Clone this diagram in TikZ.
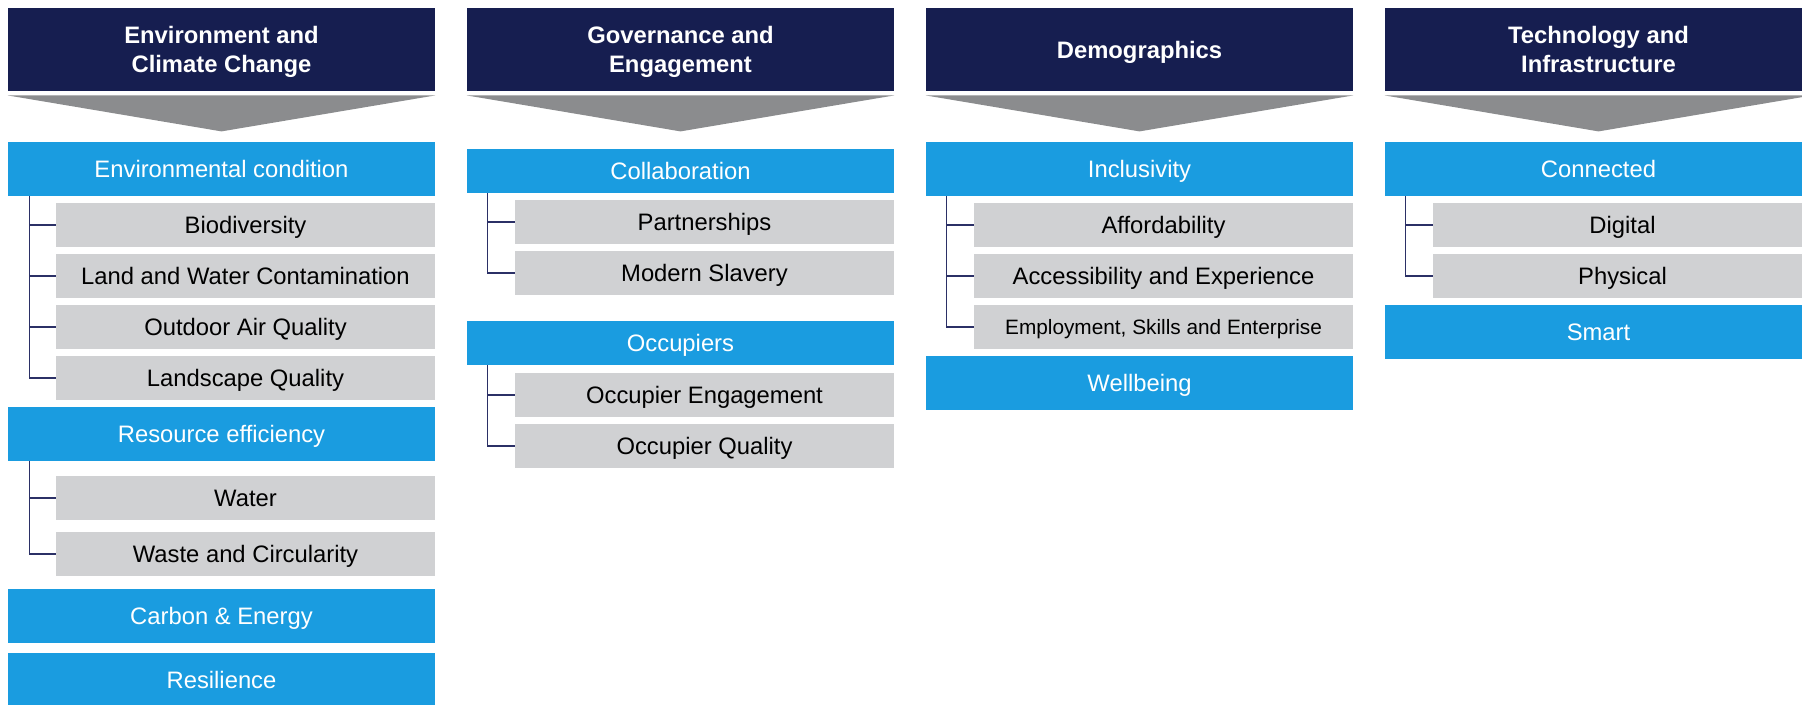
\documentclass[tikz,border=0pt]{standalone}
\usepackage{fontspec}
\setmainfont{Liberation Sans}

\definecolor{navy}{HTML}{161E50}
\definecolor{skyblue}{HTML}{1A9CE0}
\definecolor{lightgrey}{HTML}{D0D1D3}
\definecolor{midgrey}{HTML}{8B8C8E}
\definecolor{treeline}{HTML}{2B3066}

\begin{document}
\begin{tikzpicture}[x=0.5pt, y=-0.5pt,
  head/.style={fill=navy, text=white, font=\fontsize{11.9}{14.5}\selectfont\bfseries, align=center, minimum width=213.5pt, minimum height=41.5pt, inner sep=0, text depth=0pt},
  theme/.style={fill=skyblue, text=white, font=\fontsize{11.9}{14.5}\selectfont, minimum width=213.5pt, minimum height=27pt, inner sep=0, text depth=0pt},
  item/.style={fill=lightgrey, text=black, font=\fontsize{11.9}{14.5}\selectfont, minimum width=189.5pt, minimum height=22pt, inner sep=0, text depth=0pt},
  branch/.style={draw=treeline, line width=0.55pt},
  chevron/.style={fill=midgrey}]
\useasboundingbox (0,0) rectangle (1802,705);
\clip (0,0) rectangle (1802,705);
% Headers
\node[head] (h1) at (221.5,49.5) {Environment and\\Climate Change};
\node[head] (h2) at (680.5,49.5) {Governance and\\Engagement};
\node[head] (h3) at (1139.5,49.5) {Demographics};
\node[head] (h4) at (1598.5,49.5) {Technology and\\Infrastructure};
% Arrows under the headers
\foreach \h in {h1,h2,h3,h4}
  \fill[chevron] ([yshift=-2pt]\h.south west) -- ([yshift=-2pt]\h.south east) -- ([yshift=-20pt]\h.south) -- cycle;
% Environment and Climate Change
\node[theme] (envcond) at (221.5,169) {Environmental condition};
\node[item] (biodiv) at (245.5,225) {Biodiversity};
\node[item] (landwater) at (245.5,276) {Land and Water Contamination};
\node[item] (airqual) at (245.5,327) {Outdoor Air Quality};
\node[item] (landscape) at (245.5,378) {Landscape Quality};
\node[theme] (resource) at (221.5,434) {Resource efficiency};
\node[item] (water) at (245.5,498) {Water};
\node[item] (waste) at (245.5,554) {Waste and Circularity};
\node[theme] (carbon) at (221.5,616) {Carbon \& Energy};
\node[theme] (resil) at (221.5,680) {Resilience};
% Governance and Engagement
\node[theme, minimum height=22pt] (collab) at (680.5,171) {Collaboration};
\node[item] (partner) at (704.5,222) {Partnerships};
\node[item] (slavery) at (704.5,273) {Modern Slavery};
\node[theme, minimum height=22pt] (occup) at (680.5,343) {Occupiers};
\node[item] (occeng) at (704.5,395) {Occupier Engagement};
\node[item] (occqual) at (704.5,446) {Occupier Quality};
% Demographics
\node[theme] (inclus) at (1139.5,169) {Inclusivity};
\node[item] (afford) at (1163.5,225) {Affordability};
\node[item] (access) at (1163.5,276) {Accessibility and Experience};
\node[item, font=\fontsize{10.4}{12.5}\selectfont] (employ) at (1163.5,327) {Employment, Skills and Enterprise};
\node[theme] (wellb) at (1139.5,383) {Wellbeing};
% Technology and Infrastructure
\node[theme] (connect) at (1598.5,169) {Connected};
\node[item] (digital) at (1622.5,225) {Digital};
\node[item] (physical) at (1622.5,276) {Physical};
\node[theme] (smart) at (1598.5,332) {Smart};
% Tree lines
\draw[branch] ([xshift=11pt]envcond.south west) |- (biodiv.west);
\draw[branch] ([xshift=11pt]envcond.south west) |- (landwater.west);
\draw[branch] ([xshift=11pt]envcond.south west) |- (airqual.west);
\draw[branch] ([xshift=11pt]envcond.south west) |- (landscape.west);
\draw[branch] ([xshift=11pt]resource.south west) |- (water.west);
\draw[branch] ([xshift=11pt]resource.south west) |- (waste.west);
\draw[branch] ([xshift=10.5pt]collab.south west) |- (partner.west);
\draw[branch] ([xshift=10.5pt]collab.south west) |- (slavery.west);
\draw[branch] ([xshift=10.5pt]occup.south west) |- (occeng.west);
\draw[branch] ([xshift=10.5pt]occup.south west) |- (occqual.west);
\draw[branch] ([xshift=10.5pt]inclus.south west) |- (afford.west);
\draw[branch] ([xshift=10.5pt]inclus.south west) |- (access.west);
\draw[branch] ([xshift=10.5pt]inclus.south west) |- (employ.west);
\draw[branch] ([xshift=10.5pt]connect.south west) |- (digital.west);
\draw[branch] ([xshift=10.5pt]connect.south west) |- (physical.west);
\end{tikzpicture}
\end{document}
